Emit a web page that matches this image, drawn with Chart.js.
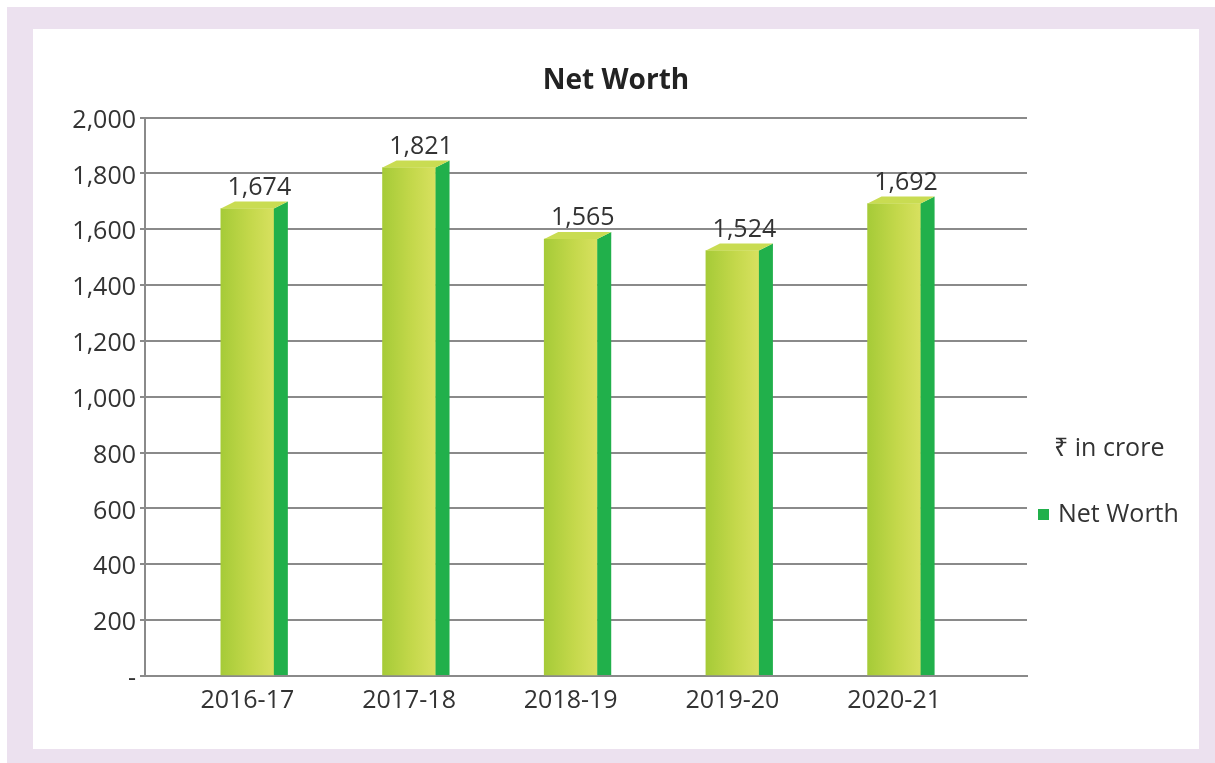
<!DOCTYPE html>
<html>
<head>
<meta charset="utf-8">
<script src="https://cdn.jsdelivr.net/npm/chart.js@4.4.1/dist/chart.umd.min.js"></script>
<style>
    html, body {
        margin: 0;
        padding: 0;
        background: #fff;
    }
    #frame {
        position: absolute;
        left: 7px;
        top: 7px;
        width: 1208px;
        height: 756px;
        background: #ece1ef;
    }
    #panel {
        position: absolute;
        left: 33px;
        top: 29px;
        width: 1166px;
        height: 720px;
        background: #fff;
    }
</style>
</head>
<body>
<div id="frame"></div>
<div id="panel"><canvas id="net-worth"></canvas></div>
<script>
const years = ['2016-17', '2017-18', '2018-19', '2019-20', '2020-21'];
const netWorth = [1674, 1821, 1565, 1524, 1692];
const yTicks = [0, 200, 400, 600, 800, 1000, 1200, 1400, 1600, 1800, 2000];
const chartTitle = 'Net Worth';
const unitText = '₹ in crore';
const seriesLabel = 'Net Worth';

const fontFamily = "'Open Sans', 'Noto Sans', 'DejaVu Sans', sans-serif";
const textColor = '#333333';
const gridColor = '#8a8a8a';
const sideColor = '#21b04b';
const topColor = '#c9dc52';

const canvas = document.getElementById('net-worth');
canvas.width = 1166;
canvas.height = 720;

function formatNumber(value) {
    if (value === 0) {
        return '-';
    }
    return value.toLocaleString('en-US');
}

function frontGradient(context) {
    if (context.type !== 'data') {
        return '#b8d444';
    }
    const chart = context.chart;
    const x = chart.scales.x ? chart.scales.x.getPixelForValue(context.dataIndex) : NaN;
    if (!isFinite(x)) {
        return '#b8d444';
    }
    const gradient = chart.ctx.createLinearGradient(x - 26, 0, x + 27, 0);
    gradient.addColorStop(0, '#a6cb38');
    gradient.addColorStop(0.55, '#c4d84b');
    gradient.addColorStop(1, '#d8e160');
    return gradient;
}

// side + top faces, value labels
const boxBars = {
    id: 'boxBars',
    afterDatasetsDraw(chart) {
        const ctx = chart.ctx;
        const meta = chart.getDatasetMeta(0);
        const depthX = 14;
        const depthY = 7;

        meta.data.forEach((bar, index) => {
            const left = bar.x - bar.width / 2;
            const right = bar.x + bar.width / 2;

            ctx.save();
            ctx.fillStyle = sideColor;
            ctx.beginPath();
            ctx.moveTo(right, bar.y);
            ctx.lineTo(right + depthX, bar.y - depthY);
            ctx.lineTo(right + depthX, bar.base);
            ctx.lineTo(right, bar.base);
            ctx.closePath();
            ctx.fill();

            ctx.fillStyle = topColor;
            ctx.beginPath();
            ctx.moveTo(left, bar.y);
            ctx.lineTo(left + depthX, bar.y - depthY);
            ctx.lineTo(right + depthX, bar.y - depthY);
            ctx.lineTo(right, bar.y);
            ctx.closePath();
            ctx.fill();

            ctx.fillStyle = textColor;
            ctx.font = '25px ' + fontFamily;
            ctx.textAlign = 'center';
            ctx.textBaseline = 'middle';
            ctx.fillText(formatNumber(netWorth[index]), bar.x + 12, bar.y - 21);
            ctx.restore();
        });
    },
};

const sideLegend = {
    id: 'sideLegend',
    afterDraw(chart) {
        const ctx = chart.ctx;
        ctx.save();
        ctx.font = '25px ' + fontFamily;
        ctx.fillStyle = textColor;
        ctx.textAlign = 'left';
        ctx.textBaseline = 'middle';
        ctx.fillText(unitText, 1021, 420);

        ctx.fillStyle = sideColor;
        ctx.fillRect(1005, 480, 11, 11);

        ctx.fillStyle = textColor;
        ctx.fillText(chart.data.datasets[0].label, 1025, 486);
        ctx.restore();
    },
};

new Chart(canvas, {
    type: 'bar',
    data: {
        datasets: [
            {
                label: seriesLabel,
                data: netWorth.map((value, index) => ({ x: index, y: value })),
                backgroundColor: frontGradient,
                borderWidth: 0,
                barThickness: 53,
            },
        ],
    },
    options: {
        responsive: false,
        animation: false,
        devicePixelRatio: 1,
        layout: {
            padding: 0,
        },
        plugins: {
            legend: { display: false },
            tooltip: { enabled: false },
            title: {
                display: true,
                text: chartTitle,
                color: '#222222',
                font: { family: fontFamily, size: 28, weight: 'bold' },
                padding: { top: 35, bottom: 20 },
            },
        },
        scales: {
            x: {
                type: 'linear',
                offset: false,
                min: -0.633,
                max: 4.822,
                grid: { display: false, drawTicks: false, offset: false },
                border: { display: true, color: gridColor, width: 2 },
                afterBuildTicks: (scale) => {
                    scale.ticks = years.map((year, index) => ({ value: index }));
                },
                afterFit: (scale) => {
                    scale.height = 73;
                },
                ticks: {
                    color: textColor,
                    padding: 10,
                    maxRotation: 0,
                    font: { family: fontFamily, size: 25 },
                    callback: (value) => years[value],
                },
            },
            y: {
                min: 0,
                max: 2000,
                grid: {
                    color: gridColor,
                    lineWidth: 2,
                    drawTicks: true,
                    tickLength: 5,
                },
                border: { display: true, color: gridColor, width: 2 },
                afterBuildTicks: (scale) => {
                    scale.ticks = yTicks.map((value) => ({ value }));
                },
                afterFit: (scale) => {
                    scale.width = 112;
                },
                ticks: {
                    color: textColor,
                    padding: 4,
                    labelOffset: 3,
                    font: { family: fontFamily, size: 25 },
                    callback: (value) => formatNumber(value),
                },
            },
            // empty right-hand space where the legend text sits
            legendSpace: {
                type: 'linear',
                position: 'right',
                display: true,
                grid: { display: false, drawTicks: false },
                border: { display: false },
                ticks: { display: false },
                afterFit: (scale) => {
                    scale.width = 172;
                },
            },
        },
    },
    plugins: [boxBars, sideLegend],
});
</script>
</body>
</html>
